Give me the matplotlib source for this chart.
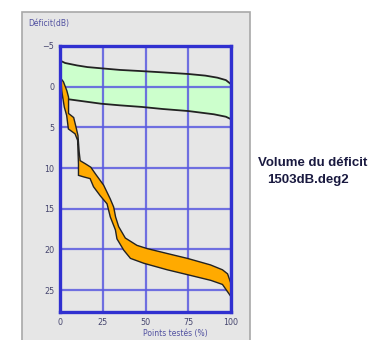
import numpy as np
import matplotlib
matplotlib.use('Agg')
import matplotlib.pyplot as plt
from matplotlib.patches import Rectangle

# Reference band (green): tolerance limits of the deficit
GREEN_X = [0, 3, 10, 16, 24, 35, 48, 60, 75, 85, 92, 97, 100]
GREEN_TOP = [-3.2, -2.9, -2.6, -2.4, -2.25, -2.05, -1.9, -1.75, -1.55, -1.35, -1.1, -0.8, -0.3]
GREEN_BOTTOM_X = [0, 3, 10, 24, 35, 48, 60, 75, 90, 97, 100]
GREEN_BOTTOM = [1.1, 1.5, 1.7, 2.1, 2.3, 2.5, 2.75, 3.0, 3.4, 3.7, 4.0]

# Measured deficit band (orange): two boundary curves
ORANGE_A_X = [0.5, 2, 4, 5, 5, 8, 9.4, 10.5, 11.2, 11.8, 15, 18, 21, 25.5, 29.4, 31.4,
              32.5, 34.3, 38.2, 45, 51, 62.7, 74.5, 88, 95, 98, 100, 100]
ORANGE_A_Y = [-1.0, -0.6, 0.5, 1.3, 3.3, 3.8, 5.0, 6.0, 8.0, 9.1, 9.5, 9.9, 10.8, 12.1, 13.8, 14.8,
              16.0, 17.2, 18.6, 19.5, 19.9, 20.5, 21.1, 21.9, 22.5, 23.0, 24.2, 25.8]
ORANGE_B_X = [0.5, 1, 1.6, 2.5, 3.9, 4.9, 8.8, 10.3, 10.8, 10.8, 14, 17.6, 19.6, 23.5, 27.5,
              29.4, 32.4, 33.3, 37.3, 41.2, 49, 62.7, 76.5, 88.2, 95, 100]
ORANGE_B_Y = [-1.0, 0.5, 1.3, 2.5, 3.55, 5.2, 5.8, 6.6, 9.5, 10.9, 11.1, 11.3, 12.3, 13.4, 14.4,
              16.0, 17.6, 18.7, 20.1, 21.1, 21.7, 22.5, 23.2, 23.8, 24.3, 25.8]

X_TICKS = [0, 25, 50, 75, 100]
Y_TICKS = [-5, 0, 5, 10, 15, 20, 25]

GRID_BLUE = '#5a5ae0'
FRAME_BLUE = '#3030d0'
LABEL_COLOR = '#45456e'
PANEL_GREY = '#e6e6e6'

fig = plt.figure(figsize=(3.75, 3.4), dpi=100, facecolor='white')

# Grey panel behind the plot
fig.patches.append(Rectangle((0.059, -0.05), 0.608, 1.015, transform=fig.transFigure,
                             facecolor=PANEL_GREY, edgecolor='#a8a8a8', linewidth=1.2,
                             zorder=-1))

ax = fig.add_axes([0.16, 0.082, 0.456, 0.783])
ax.set_facecolor(PANEL_GREY)

# Green band
green_bottom_on_top_x = np.interp(GREEN_X, GREEN_BOTTOM_X, GREEN_BOTTOM)
ax.fill_between(GREEN_X, GREEN_TOP, green_bottom_on_top_x,
                color='#ccffcc', zorder=1, linewidth=0)
ax.plot(GREEN_X, GREEN_TOP, color='#222222', lw=1.3, zorder=3)
ax.plot(GREEN_BOTTOM_X, GREEN_BOTTOM, color='#222222', lw=1.3, zorder=3)

# Orange band
poly_x = ORANGE_A_X + ORANGE_B_X[::-1]
poly_y = ORANGE_A_Y + ORANGE_B_Y[::-1]
ax.fill(poly_x, poly_y, facecolor='#ffaa00', edgecolor='#222222', lw=1.0, zorder=4)

ax.set_xlim(0, 100)
ax.set_ylim(27.7, -5)
ax.set_xticks(X_TICKS)
ax.set_yticks(Y_TICKS)
ax.grid(True, color=GRID_BLUE, lw=1.6, alpha=0.85, zorder=2)
ax.set_axisbelow(False)
for sp in ax.spines.values():
    sp.set_color(FRAME_BLUE)
    sp.set_linewidth(2.4)
    sp.set_zorder(5)
ax.tick_params(length=0, pad=4, labelsize=5.8, labelcolor=LABEL_COLOR)

fig.text(0.075, 0.93, 'Déficit(dB)', fontsize=5.5, color='#5050a0', ha='left', va='center')
fig.text(0.467, 0.018, 'Points testés (%)', fontsize=5.5, color='#5050a0', ha='center', va='center')

# Deficit volume annotation
fig.text(0.688, 0.52, 'Volume du déficit', fontsize=9.5, fontweight='bold',
         family='Liberation Sans', color='#1a1a40', ha='left', va='center')
fig.text(0.713, 0.47, '1503dB.deg2', fontsize=9.5, fontweight='bold',
         family='Liberation Sans', color='#1a1a40', ha='left', va='center')

fig.savefig('out.png', dpi=100, facecolor='white')
